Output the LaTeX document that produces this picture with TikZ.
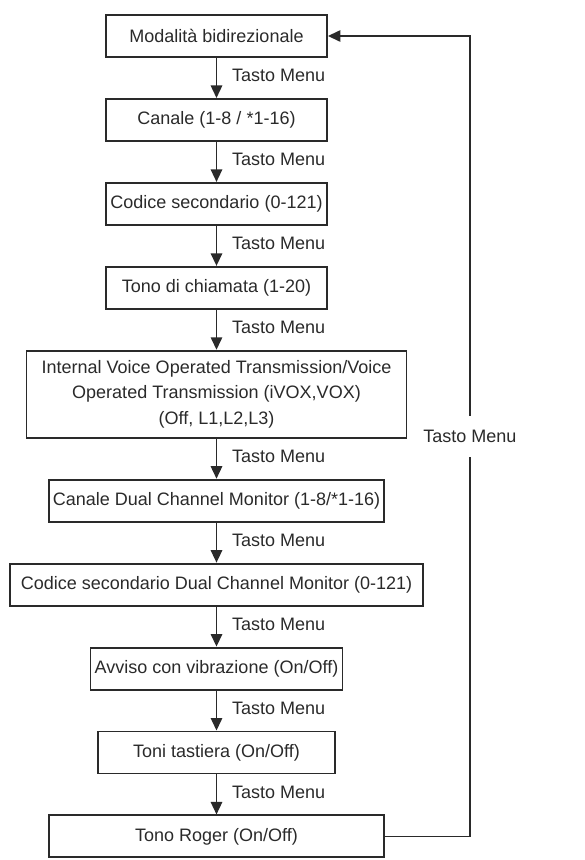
\documentclass[tikz,border=0pt]{standalone}
\usepackage{fontspec}
\setmainfont{Liberation Sans}
\usepackage{xcolor}
\usepackage{tikz}
\usetikzlibrary{arrows.meta,positioning,calc}

\definecolor{ink}{HTML}{2A2A2A}

\begin{document}
\begin{tikzpicture}[
        font=\fontsize{10.25}{14.5}\selectfont,
        text=ink,
        >={Triangle[length=0.25cm,width=0.23cm]},
        node distance=0.8cm,
        menubox/.style={rectangle,draw=ink,line width=1.1pt,minimum width=4.42cm,minimum height=0.84cm,align=center,inner sep=2pt},
        arrow/.style={->,line width=0.85pt,draw=ink},
        key/.style={right=0.18cm,yshift=0.05cm}
    ]
        \useasboundingbox (0,0) rectangle (11.7,-17.2);
        \node[menubox] (bidir) at (4.33,-0.72) {Modalità bidirezionale};
        \node[menubox,below=of bidir] (canale) {Canale (1-8 / *1-16)};
        \node[menubox,below=of canale] (codice) {Codice secondario (0-121)};
        \node[menubox,below=of codice] (tono) {Tono di chiamata (1-20)};
        \node[menubox,below=of tono,minimum width=7.6cm,minimum height=1.74cm] (vox) {Internal Voice Operated Transmission/Voice\\Operated Transmission (iVOX,VOX)\\(Off, L1,L2,L3)};
        \node[menubox,below=of vox,minimum width=6.7cm] (dcm) {Canale Dual Channel Monitor (1-8/*1-16)};
        \node[menubox,below=of dcm,minimum width=8.26cm] (dcmcode) {Codice secondario Dual Channel Monitor (0-121)};
        \node[menubox,below=of dcmcode,minimum width=5.04cm] (vibra) {Avviso con vibrazione (On/Off)};
        \node[menubox,below=of vibra,minimum width=4.74cm] (tastiera) {Toni tastiera (On/Off)};
        \node[menubox,below=of tastiera,minimum width=6.7cm] (roger) {Tono Roger (On/Off)};

        \draw[arrow] (bidir) -- node[key]{Tasto Menu} (canale);
        \draw[arrow] (canale) -- node[key]{Tasto Menu} (codice);
        \draw[arrow] (codice) -- node[key]{Tasto Menu} (tono);
        \draw[arrow] (tono) -- node[key]{Tasto Menu} (vox);
        \draw[arrow] (vox) -- node[key]{Tasto Menu} (dcm);
        \draw[arrow] (dcm) -- node[key]{Tasto Menu} (dcmcode);
        \draw[arrow] (dcmcode) -- node[key]{Tasto Menu} (vibra);
        \draw[arrow] (vibra) -- node[key]{Tasto Menu} (tastiera);
        \draw[arrow] (tastiera) -- node[key]{Tasto Menu} (roger);

        % ritorno al primo menu
        \draw[arrow] (roger.east) -- ++(1.7,0) |- node[pos=0.25,fill=white,inner ysep=8pt]{Tasto Menu} (bidir.east);
    \end{tikzpicture}
\end{document}
